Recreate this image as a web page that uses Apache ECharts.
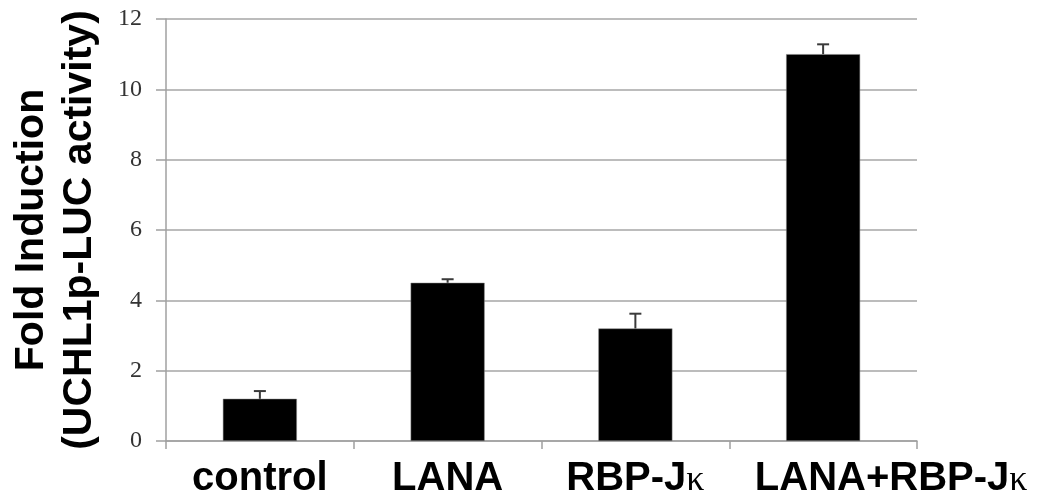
<!DOCTYPE html>
<html>
<head>
<meta charset="utf-8">
<script src="https://cdn.jsdelivr.net/npm/echarts@6/dist/echarts.min.js"></script>
<style>html,body{margin:0;padding:0;background:#fff}#c{width:1041px;height:499px}</style>
</head>
<body>
<div id="c"></div>
<script>
var categories = ['control', 'LANA', 'RBP-Jκ', 'LANA+RBP-Jκ'];
var values = [1.2, 4.5, 3.2, 11.0];
var errors = [0.22, 0.1, 0.42, 0.28];
var yTicks = [0, 2, 4, 6, 8, 10, 12];

var chart = echarts.init(document.getElementById('c'));
var errData = values.map(function (v, i) { return [i, v, errors[i]]; });

chart.setOption({
  animation: false,
  backgroundColor: '#fff',
  grid: { left: 165, right: 124, top: 19, bottom: 57 },
  xAxis: {
    type: 'category',
    data: categories,
    boundaryGap: true,
    axisLine: { lineStyle: { color: '#a0a0a0', width: 1.5 } },
    axisTick: { show: true, length: 8, lineStyle: { color: '#a0a0a0', width: 1.5 } },
    axisLabel: {
      margin: 18,
      interval: 0,
      color: '#000',
      fontFamily: 'Liberation Sans',
      fontWeight: 'bold',
      fontSize: 40,
      formatter: function (val, idx) {
        var parts = val.split('κ');
        var s = '';
        if (idx === 3) s += '{sp|}';
        s += '{t|' + parts[0] + '}';
        if (parts.length > 1) s += '{k|κ}';
        return s;
      },
      rich: {
        t: { fontFamily: 'Liberation Sans', fontWeight: 'bold', fontSize: 40, color: '#000' },
        k: { fontFamily: 'Liberation Serif', fontWeight: 'normal', fontSize: 36, color: '#000', verticalAlign: 'bottom' },
        sp: { width: 136 }
      }
    },
    splitLine: { show: false }
  },
  yAxis: {
    type: 'value',
    min: yTicks[0],
    max: yTicks[yTicks.length - 1],
    interval: 2,
    name: 'Fold Induction\n(UCHL1p-LUC activity)',
    nameLocation: 'middle',
    nameRotate: 90,
    nameGap: 62,
    nameTextStyle: {
      fontFamily: 'Liberation Sans',
      fontWeight: 'bold',
      fontSize: 41,
      lineHeight: 48,
      color: '#000'
    },
    axisLine: { show: true, lineStyle: { color: '#a0a0a0', width: 1.5 } },
    axisTick: { show: true, length: 10, lineStyle: { color: '#a0a0a0', width: 1.5 } },
    axisLabel: {
      margin: 24,
      color: '#333',
      fontFamily: 'Liberation Serif',
      fontSize: 24
    },
    splitLine: { show: true, lineStyle: { color: '#a6a6a6', width: 1.5 } }
  },
  series: [
    {
      type: 'bar',
      data: values,
      barWidth: 74,
      itemStyle: { color: '#000', borderColor: '#888', borderWidth: 0.5 }
    },
    {
      type: 'custom',
      data: errData,
      z: 10,
      renderItem: function (params, api) {
        var x = api.value(0);
        var v = api.value(1);
        var e = api.value(2);
        var p0 = api.coord([x, v]);
        var p1 = api.coord([x, v + e]);
        var hw = 6;
        var st = { stroke: '#3a3a3a', lineWidth: 2 };
        return {
          type: 'group',
          children: [
            { type: 'line', shape: { x1: p0[0], y1: p0[1], x2: p1[0], y2: p1[1] }, style: st },
            { type: 'line', shape: { x1: p1[0] - hw, y1: p1[1], x2: p1[0] + hw, y2: p1[1] }, style: st }
          ]
        };
      }
    }
  ]
});
</script>
</body>
</html>
